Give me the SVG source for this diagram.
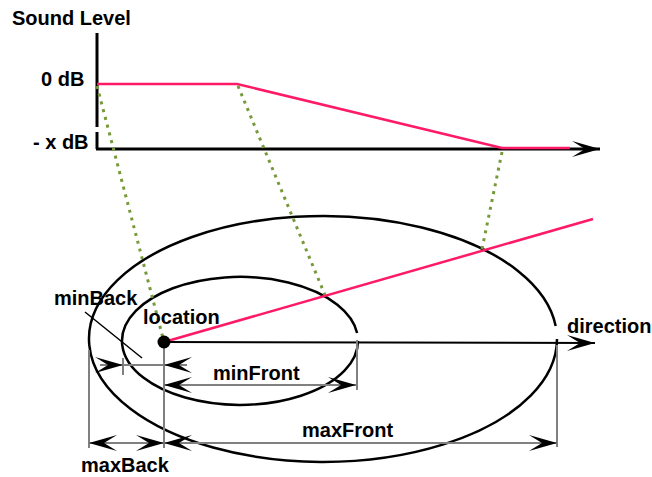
<svg xmlns="http://www.w3.org/2000/svg" width="652" height="477" viewBox="0 0 652 477">
<style>
text{font-family:"Liberation Sans",Arial,sans-serif;font-weight:bold;font-size:20px;fill:#000}
.ax{stroke:#000;stroke-width:3;fill:none}
.red{stroke:#ff1a66;stroke-width:2.5;fill:none}
.grn{stroke:#76993a;stroke-width:3;stroke-dasharray:3 5;fill:none}
.ell{stroke:#000;stroke-width:2.5;fill:none}
.dim{stroke:#808080;stroke-width:2;fill:none}
.arr{marker-end:url(#ah)}
.arr2{marker-start:url(#ahs);marker-end:url(#ah)}
</style>
<defs>
<marker id="ah" markerUnits="userSpaceOnUse" viewBox="-29 -9 30 18" refX="0" refY="0" markerWidth="30" markerHeight="18" orient="auto"><path d="M0,0 L-28,-8 L-15,0 L-28,8 Z" fill="#000"/></marker>
<marker id="ahs" markerUnits="userSpaceOnUse" viewBox="-29 -9 30 18" refX="0" refY="0" markerWidth="30" markerHeight="18" orient="auto-start-reverse"><path d="M0,0 L-28,-8 L-15,0 L-28,8 Z" fill="#000"/></marker>
</defs>
<g id="graph">
<text x="12" y="25">Sound Level</text>
<text x="41" y="86">0 dB</text>
<text x="33" y="149">- x dB</text>
<line class="ax" x1="97" y1="33" x2="97" y2="127"/>
<line class="ax" x1="97" y1="132" x2="97" y2="149"/>
<line class="ax arr" x1="96" y1="149" x2="600" y2="149"/>
<polyline class="red" points="97,84 237,84 502,148 570,148"/>
</g>
<g id="ellipses">
<path id="outer" class="ell" d="M557,339 A234,123 0 1 1 555.7,326"/>
<path id="inner" class="ell" d="M358,341 A118,64 0 1 1 357.1,333"/>
</g>
<g id="connectors">
<line class="grn" x1="97" y1="86" x2="164" y2="342"/>
<line class="grn" x1="238" y1="86" x2="325" y2="295"/>
<line class="grn" x1="502" y1="152" x2="482" y2="249"/>
<line class="red" x1="164" y1="342" x2="593" y2="219"/>
<line class="ax arr" style="stroke-width:2" x1="164" y1="342" x2="595" y2="343"/>
<line stroke="#000" stroke-width="1.5" x1="85" y1="312" x2="142" y2="358"/>
</g>
<g id="dimensions">
<line class="dim" x1="89" y1="350" x2="89" y2="448"/>
<line class="dim" x1="164" y1="348" x2="164" y2="448"/>
<line class="dim" x1="123" y1="358" x2="123" y2="375"/>
<line class="dim" x1="357" y1="340" x2="357" y2="390"/>
<line class="dim" x1="557" y1="345" x2="557" y2="447"/>
<line class="dim arr" x1="100" y1="365" x2="123" y2="365"/>
<line class="dim" x1="123" y1="365" x2="164" y2="365"/>
<line class="dim arr" x1="187" y1="365" x2="164" y2="365"/>
<line class="dim arr2" x1="164" y1="385" x2="356" y2="385"/>
<line class="dim arr2" x1="89" y1="443" x2="164" y2="443"/>
<line class="dim arr2" x1="164" y1="443" x2="557" y2="443"/>
</g>
<g id="location">
<circle cx="164" cy="342" r="6.5" fill="#000"/>
<text x="143" y="324">location</text>
</g>
<g id="labels">
<text x="54" y="305">minBack</text>
<text x="213" y="380">minFront</text>
<text x="302" y="437">maxFront</text>
<text x="81" y="472">maxBack</text>
<text x="567" y="333">direction</text>
</g>
</svg>
